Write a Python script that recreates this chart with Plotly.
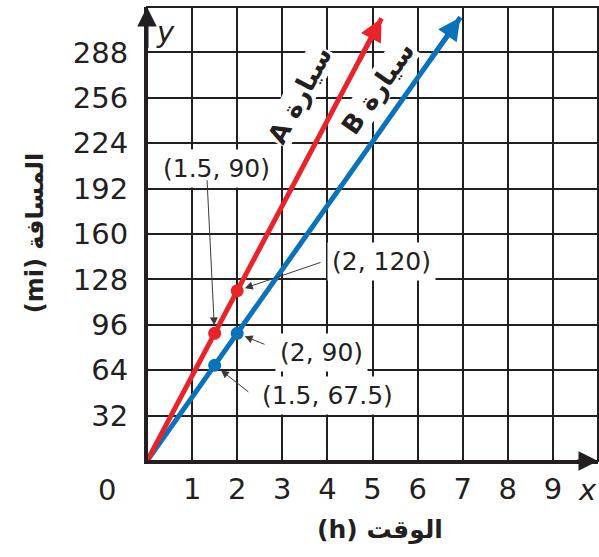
import plotly.graph_objects as go

# ---- data ----
x_ticks = [0, 1, 2, 3, 4, 5, 6, 7, 8, 9, 10]
x_tick_text = ["", "1", "2", "3", "4", "5", "6", "7", "8", "9", ""]
y_ticks = [0, 32, 64, 96, 128, 160, 192, 224, 256, 288, 320]
y_tick_text = ["", "32", "64", "96", "128", "160", "192", "224", "256", "288", ""]

car_a_line_x = [0, 5.2]
car_a_line_y = [0, 312]
car_b_line_x = [0, 6.95]
car_b_line_y = [0, 312.75]

car_a_pts_x = [1.5, 2]
car_a_pts_y = [90, 120]
car_b_pts_x = [1.5, 2]
car_b_pts_y = [67.5, 90]

RED = "#E8232A"
BLUE = "#0A72BB"
INK = "#231F20"
FONT = "DejaVu Sans"
AR_FONT = "DejaVu Sans"

fig = go.Figure()
fig.add_trace(go.Scatter(x=car_b_line_x, y=car_b_line_y, mode="lines",
                         line=dict(color=BLUE, width=5), hoverinfo="skip", showlegend=False))
fig.add_trace(go.Scatter(x=car_a_line_x, y=car_a_line_y, mode="lines",
                         line=dict(color=RED, width=5), hoverinfo="skip", showlegend=False))
fig.add_trace(go.Scatter(x=car_b_pts_x, y=car_b_pts_y, mode="markers",
                         marker=dict(color=BLUE, size=13), showlegend=False))
fig.add_trace(go.Scatter(x=car_a_pts_x, y=car_a_pts_y, mode="markers",
                         marker=dict(color=RED, size=13), showlegend=False))

ann = []
# line arrowheads
for lx, ly, col in [(car_a_line_x, car_a_line_y, RED), (car_b_line_x, car_b_line_y, BLUE)]:
    ann.append(dict(x=lx[-1], y=ly[-1], ax=lx[-1] * 0.9, ay=ly[-1] * 0.9,
                    xref="x", yref="y", axref="x", ayref="y", text="",
                    showarrow=True, arrowhead=2, arrowsize=0.9, arrowwidth=5,
                    arrowcolor=col))
# axis arrows
ann.append(dict(x=0, y=320, ax=0, ay=290, xref="x", yref="y", axref="x", ayref="y",
                text="", showarrow=True, arrowhead=2, arrowsize=1.3, arrowwidth=3,
                arrowcolor=INK))
ann.append(dict(x=10, y=0, ax=9.5, ay=0, xref="x", yref="y", axref="x", ayref="y",
                text="", showarrow=True, arrowhead=2, arrowsize=1.3, arrowwidth=3,
                arrowcolor=INK))

# point labels
lab_font = dict(family=FONT, size=25, color=INK)
labels = [
    ("(1.5, 90)", 1.55, 206.5),
    ("(2, 120)", 5.19, 140.3),
    ("(2, 90)", 3.86, 76.8),
    ("(1.5, 67.5)", 4.01, 46.5),
]
for t, lx, ly in labels:
    ann.append(dict(x=lx, y=ly, xref="x", yref="y", text=t, showarrow=False,
                    xanchor="center", yanchor="middle",
                    font=lab_font, bgcolor="white", borderpad=4))

# leader arrows
leaders = [
    (car_a_pts_x[0], car_a_pts_y[0], 1.33, 199),
    (car_a_pts_x[1], car_a_pts_y[1], 3.88, 140.3),
    (car_b_pts_x[1], car_b_pts_y[1], 2.64, 81.8),
    (car_b_pts_x[0], car_b_pts_y[0], 2.28, 47.9),
]
for px, py, sx, sy in leaders:
    ann.append(dict(x=px, y=py, ax=sx, ay=sy, xref="x", yref="y", axref="x", ayref="y",
                    text="", showarrow=True, arrowhead=2, arrowsize=1.6, arrowwidth=1,
                    arrowcolor="#3a3a3a", standoff=8))

# car labels along the lines
ann.append(dict(x=3.39, y=258, xref="x", yref="y", text="\u202bسيارة A\u202c",
                showarrow=False, textangle=-62, bgcolor="white", borderpad=0,
                xanchor="center", yanchor="middle",
                font=dict(family=AR_FONT, size=26, color=INK, weight="bold")))
ann.append(dict(x=5.12, y=263, xref="x", yref="y", text="\u202bسيارة B\u202c",
                showarrow=False, textangle=-55, bgcolor="white", borderpad=0,
                xanchor="center", yanchor="middle",
                font=dict(family=AR_FONT, size=26, color=INK, weight="bold")))

# axis titles and letters
paper_txt = [
    ("\u202bالمسافة (mi)\u202c", -0.248, 0.502, -90, dict(family=AR_FONT, size=24, color=INK, weight="bold")),
    ("\u202bالوقت (h)\u202c", 0.517, -0.152, 0, dict(family=AR_FONT, size=25, color=INK, weight="bold")),
    ("<i>x</i>", 0.976, -0.064, 0, dict(family=FONT, size=29, color=INK)),
    ("<i>y</i>", 0.04, 0.945, 0, dict(family=FONT, size=29, color=INK)),
    ("0", -0.089, -0.064, 0, dict(family=FONT, size=29, color=INK)),
]
for t, px, py, ang, f in paper_txt:
    ann.append(dict(x=px, y=py, xref="paper", yref="paper", text=t, textangle=ang,
                    showarrow=False, xanchor="center", yanchor="middle", font=f))

fig.update_layout(
    width=599, height=557, autosize=False,
    margin=dict(l=147, r=1, t=7, b=96),
    plot_bgcolor="white", paper_bgcolor="white",
    annotations=ann,
    shapes=[dict(type="rect", xref="paper", yref="paper", x0=0, x1=1, y0=0, y1=1,
                 line=dict(color=INK, width=2))],
)
fig.update_xaxes(range=[0, 10], tickvals=x_ticks, ticktext=x_tick_text,
                 showgrid=True, gridcolor=INK, gridwidth=2, zeroline=False,
                 showline=True, linecolor=INK, linewidth=3,
                 ticks="", tickfont=dict(family=FONT, size=29, color=INK), fixedrange=True)
fig.update_yaxes(range=[0, 320], tickvals=y_ticks, ticktext=y_tick_text,
                 showgrid=True, gridcolor=INK, gridwidth=2, zeroline=False,
                 showline=True, linecolor=INK, linewidth=3,
                 ticks="outside", ticklen=10, tickcolor="rgba(0,0,0,0)",
                 tickfont=dict(family=FONT, size=29, color=INK), fixedrange=True)

fig.write_html("out.html", config={"displayModeBar": False},
               post_script="document.body.style.margin='0';document.body.style.overflow='hidden';")
